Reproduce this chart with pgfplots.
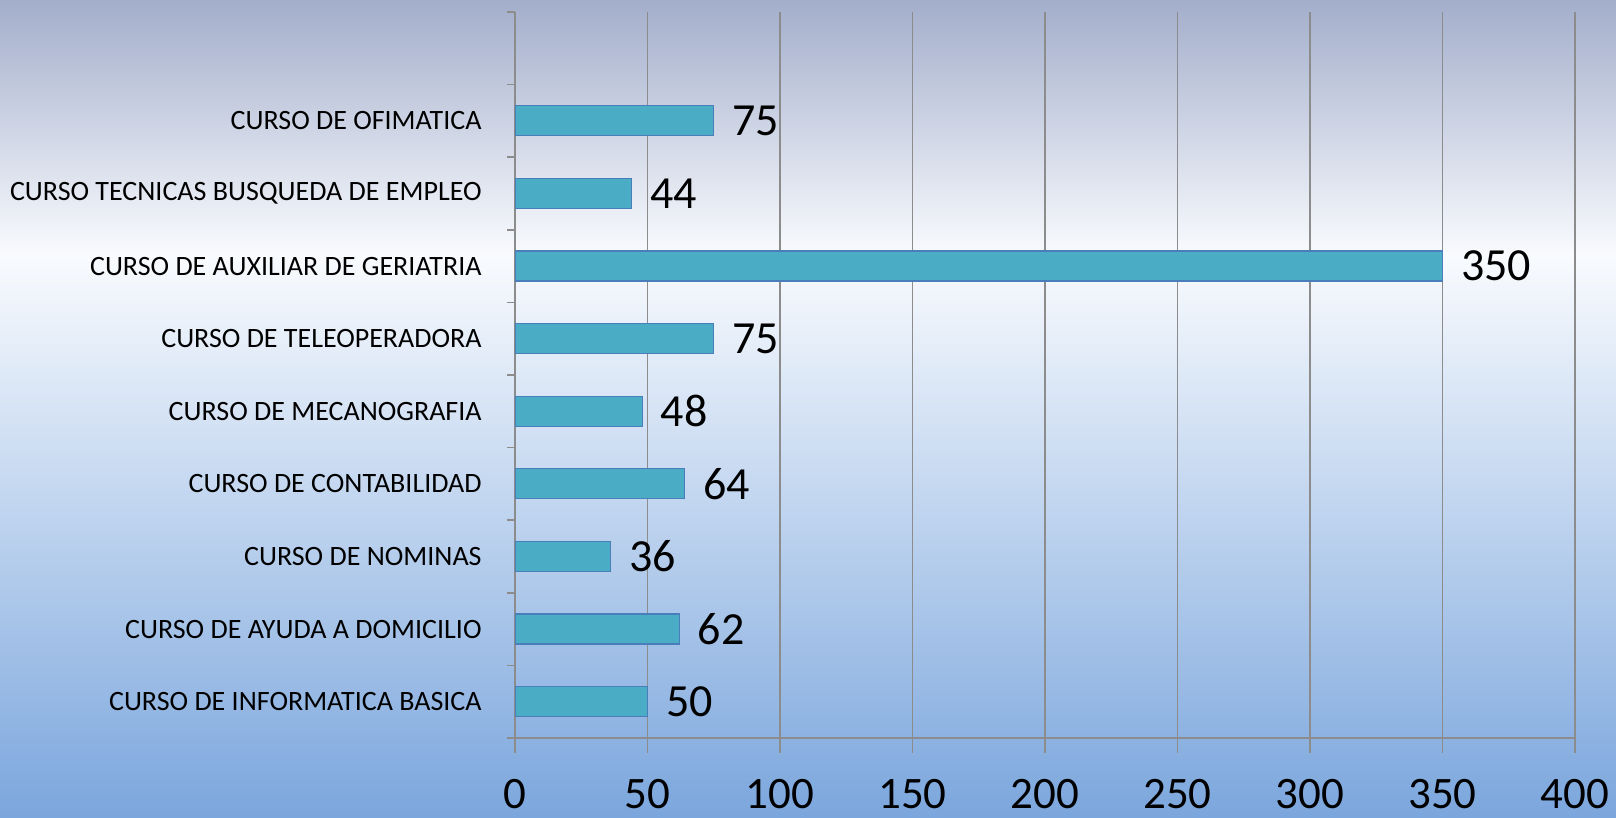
\documentclass[border=0pt]{standalone}
\usepackage{fontspec}
\setmainfont{Carlito}
\usepackage{pgfplots}
\pgfplotsset{compat=1.18}
\definecolor{bgtop}{HTML}{A3AECB}
\definecolor{bgmid}{HTML}{F9FBFE}
\definecolor{bgbot}{HTML}{7BA6DD}
\definecolor{barfill}{HTML}{4BACC6}
\definecolor{baredge}{HTML}{4A7EBB}
\definecolor{gridc}{HTML}{8C8C8C}
\begin{document}
\begin{tikzpicture}
\useasboundingbox (0pt,0pt) rectangle (808pt,409pt);
\shade[bottom color=bgbot, top color=bgmid] (0pt,0pt) rectangle (808pt,282pt);
\shade[bottom color=bgmid, top color=bgtop] (0pt,281pt) rectangle (808pt,409pt);
\begin{axis}[
  at={(257.5pt,40pt)}, anchor=south west,
  scale only axis, width=530pt, height=363pt,
  xbar, bar width=15pt,
  xmin=0, xmax=400, ymin=0.5, ymax=10.5,
  axis x line*=bottom, axis y line*=left,
  axis line style={draw=gridc, line width=0.75pt, -},
  xtick={0,50,...,400},
  xmajorgrids, grid style={draw=gridc, line width=0.75pt},
  tick align=outside,
  major tick length=7.5pt,
  minor tick length=4pt,
  every tick/.style={draw=gridc, line width=0.75pt},
  major y tick style={draw=none},
  minor y tick style={draw=gridc, line width=0.75pt},
  ytick={1,...,9},
  minor ytick={0.5,1.5,...,10.5},
  yticklabels={CURSO DE INFORMATICA BASICA, CURSO DE AYUDA A DOMICILIO, CURSO DE NOMINAS, CURSO DE CONTABILIDAD, CURSO DE MECANOGRAFIA, CURSO DE TELEOPERADORA, CURSO DE AUXILIAR DE GERIATRIA, CURSO TECNICAS BUSQUEDA DE EMPLEO, CURSO DE OFIMATICA},
  yticklabel style={font=\fontsize{14}{14}\selectfont, anchor=east, inner sep=0pt, xshift=-9pt},
  /pgf/number format/assume math mode=true,
  xticklabel style={font=\fontsize{22.5}{22.5}\selectfont, anchor=base, inner sep=0pt, yshift=-28pt},
  xticklabel shift=0pt,
  nodes near coords,
  every node near coord/.append style={font=\fontsize{23}{23}\selectfont, anchor=west, inner sep=0pt, xshift=9pt, text=black},
]
\addplot[fill=barfill, draw=baredge, line width=0.6pt] coordinates {(50,1) (62,2) (36,3) (64,4) (48,5) (75,6) (350,7) (44,8) (75,9)};
\end{axis}
\end{tikzpicture}
\end{document}
